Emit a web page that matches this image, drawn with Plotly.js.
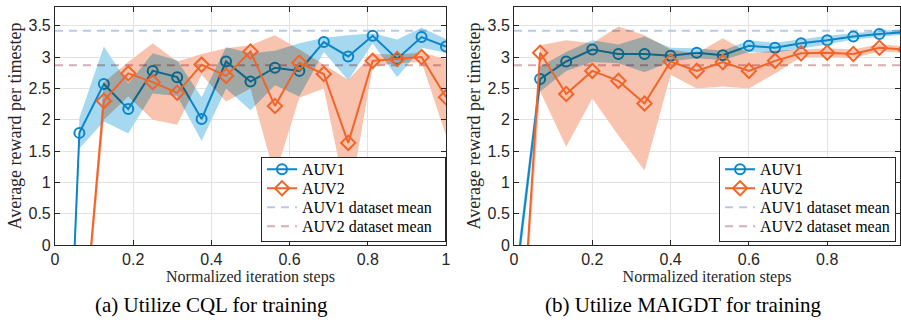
<!DOCTYPE html>
<html>
<head>
<meta charset="utf-8">
<script src="https://cdn.plot.ly/plotly-3.0.1.min.js"></script>
<style>
html,body{margin:0;padding:0;background:#fff;}
#chart{width:901px;height:327px;}
</style>
</head>
<body>
<div id="chart"></div>
<script>
// ---------- data: (a) CQL ----------
const xCQL = [0, 0.0625, 0.125, 0.1875, 0.25, 0.3125, 0.375, 0.4375, 0.5, 0.5625, 0.625, 0.6875, 0.75, 0.8125, 0.875, 0.9375, 1.0];
const cqlAUV1      = [-7.5, 1.79, 2.57, 2.17, 2.78, 2.68, 2.01, 2.93, 2.61, 2.83, 2.78, 3.24, 3.01, 3.34, 2.97, 3.32, 3.17];
const cqlAUV1Upper = [-7.25, 2.03, 3.17, 2.58, 3.06, 2.95, 2.36, 3.16, 3.06, 3.10, 3.22, 3.31, 3.35, 3.38, 3.28, 3.47, 3.29];
const cqlAUV1Lower = [-7.75, 1.54, 1.97, 1.78, 2.42, 2.38, 1.66, 2.50, 2.15, 2.55, 2.37, 3.08, 2.63, 3.22, 2.68, 3.15, 3.07];
const cqlAUV2      = [-6.6, -2.2, 2.30, 2.74, 2.60, 2.43, 2.88, 2.70, 3.09, 2.22, 2.91, 2.73, 1.63, 2.94, 2.97, 3.00, 2.36];
const cqlAUV2Upper = [-6.5, -2.1, 2.60, 2.92, 3.22, 2.93, 3.05, 3.14, 3.19, 3.35, 3.12, 2.88, 2.64, 3.05, 3.04, 3.07, 2.97];
const cqlAUV2Lower = [-6.7, -2.3, 2.00, 2.37, 2.00, 1.92, 2.72, 2.29, 2.50, 1.10, 2.35, 2.50, 0.60, 2.85, 2.90, 2.92, 1.75];

// ---------- data: (b) MAIGDT ----------
const xMAIGDT = [0, 0.0667, 0.1333, 0.2, 0.2667, 0.3333, 0.4, 0.4667, 0.5333, 0.6, 0.6667, 0.7333, 0.8, 0.8667, 0.9333, 1.0];
const mgAUV1      = [-0.8, 2.65, 2.93, 3.12, 3.05, 3.05, 3.02, 3.07, 3.03, 3.18, 3.15, 3.22, 3.27, 3.33, 3.37, 3.40];
const mgAUV1Upper = [-0.6, 2.85, 3.08, 3.27, 3.20, 3.33, 3.15, 3.14, 3.10, 3.27, 3.23, 3.29, 3.34, 3.38, 3.42, 3.44];
const mgAUV1Lower = [-1.0, 2.45, 2.78, 2.92, 2.90, 2.76, 2.93, 2.98, 2.95, 3.08, 3.07, 3.14, 3.20, 3.28, 3.32, 3.36];
const mgAUV2      = [-3.5, 3.07, 2.41, 2.78, 2.62, 2.26, 2.93, 2.78, 2.92, 2.78, 2.94, 3.06, 3.07, 3.05, 3.15, 3.12];
const mgAUV2Upper = [-3.4, 3.19, 3.27, 3.22, 3.49, 3.35, 3.12, 3.06, 3.30, 3.06, 3.10, 3.12, 3.14, 3.12, 3.21, 3.17];
const mgAUV2Lower = [-3.6, 2.45, 1.57, 2.34, 1.75, 1.19, 2.72, 2.50, 2.53, 2.50, 2.74, 3.00, 3.00, 2.98, 3.09, 3.07];

// dataset means
const meanX = [0, 1];
const datasetMeanAUV1 = 3.42;
const datasetMeanAUV2 = 2.87;

// labels
const seriesNames = ['AUV1', 'AUV2', 'AUV1 dataset mean', 'AUV2 dataset mean'];
const xTitle = 'Normalized iteration steps';
const yTitle = 'Average reward per timestep';
const captions = ['(a) Utilize CQL for training', '(b) Utilize MAIGDT for training'];

// ---------- styles ----------
const BLUE = '#0C86C6', ORANGE = '#F2652A';
const BLUE_FILL = '#A6D9F0', ORANGE_FILL = '#F8C4B0';
const MEAN1 = '#B9C9E6', MEAN2 = '#D6AEB4';
const SERIF = 'Liberation Serif';
const SANS = 'Liberation Sans';

function band(x, lo, hi, color, xa, ya) {
  return {
    x: x.concat(x.slice().reverse()),
    y: hi.concat(lo.slice().reverse()),
    fill: 'toself', fillcolor: color, mode: 'lines', line: {width: 0},
    hoverinfo: 'skip', showlegend: false, xaxis: xa, yaxis: ya
  };
}
function series(x, y, name, color, symbol, xa, ya, lg, rank) {
  return {
    x: x, y: y, name: name, mode: 'lines+markers',
    line: {color: color, width: 2},
    marker: {symbol: symbol, size: symbol.startsWith('diamond') ? 11 : 10, color: color, line: {color: color, width: 2}},
    xaxis: xa, yaxis: ya, legend: lg, legendrank: rank, cliponaxis: true
  };
}
function meanLine(v, name, color, xa, ya, lg, rank) {
  return {
    x: meanX, y: [v, v], name: name, mode: 'lines',
    line: {color: color, width: 2, dash: '8px,6px'},
    xaxis: xa, yaxis: ya, legend: lg, legendrank: rank
  };
}

const traces = [
  meanLine(datasetMeanAUV1, seriesNames[2], MEAN1, 'x', 'y', 'legend', 3),
  meanLine(datasetMeanAUV2, seriesNames[3], MEAN2, 'x', 'y', 'legend', 4),
  band(xCQL, cqlAUV1Lower, cqlAUV1Upper, BLUE_FILL, 'x', 'y'),
  series(xCQL, cqlAUV1, seriesNames[0], BLUE, 'circle-open', 'x', 'y', 'legend', 1),
  band(xCQL, cqlAUV2Lower, cqlAUV2Upper, ORANGE_FILL, 'x', 'y'),
  series(xCQL, cqlAUV2, seriesNames[1], ORANGE, 'diamond-open', 'x', 'y', 'legend', 2),

  meanLine(datasetMeanAUV1, seriesNames[2], MEAN1, 'x2', 'y2', 'legend2', 3),
  meanLine(datasetMeanAUV2, seriesNames[3], MEAN2, 'x2', 'y2', 'legend2', 4),
  band(xMAIGDT, mgAUV1Lower, mgAUV1Upper, BLUE_FILL, 'x2', 'y2'),
  series(xMAIGDT, mgAUV1, seriesNames[0], BLUE, 'circle-open', 'x2', 'y2', 'legend2', 1),
  band(xMAIGDT, mgAUV2Lower, mgAUV2Upper, ORANGE_FILL, 'x2', 'y2'),
  series(xMAIGDT, mgAUV2, seriesNames[1], ORANGE, 'diamond-open', 'x2', 'y2', 'legend2', 2)
];

function xAxis(domain, range) {
  return {
    domain: domain, range: range, dtick: 0.2, tick0: 0,
    ticks: 'inside', ticklen: 5, tickwidth: 1, tickcolor: '#262626',
    showline: true, linecolor: '#262626', linewidth: 1, mirror: 'ticks',
    showgrid: true, gridcolor: '#E2E2E2', gridwidth: 1, zeroline: false,
    tickfont: {family: SANS, size: 16, color: '#262626'},
    title: {text: xTitle, font: {family: SERIF, size: 16, color: '#262626'}, standoff: 2},
    automargin: false
  };
}
function yAxis(domain, anchor) {
  return {
    domain: domain, range: [0, 3.8], dtick: 0.5, tick0: 0, anchor: anchor,
    ticks: 'inside', ticklen: 5, tickwidth: 1, tickcolor: '#262626',
    showline: true, linecolor: '#262626', linewidth: 1, mirror: 'ticks',
    showgrid: true, gridcolor: '#E2E2E2', gridwidth: 1, zeroline: false,
    tickfont: {family: SANS, size: 16, color: '#262626'},
    title: {text: yTitle, font: {family: SERIF, size: 18, color: '#262626'}, standoff: 2},
    automargin: false
  };
}
function legendCfg(x) {
  return {
    x: x, xanchor: 'right', y: 0.2602, yanchor: 'bottom',
    bgcolor: '#FFFFFF', bordercolor: '#262626', borderwidth: 1,
    font: {family: SERIF, size: 16, color: '#000000'},
    traceorder: 'normal', tracegroupgap: 0
  };
}

const yDom = [0.2508, 0.9786];
const layout = {
  width: 901, height: 327,
  margin: {l: 0, r: 0, t: 0, b: 0},
  paper_bgcolor: '#FFFFFF', plot_bgcolor: '#FFFFFF',
  showlegend: true,
  xaxis: xAxis([0.0610, 0.4950], [0, 1]),
  yaxis: yAxis(yDom, 'x'),
  xaxis2: Object.assign(xAxis([0.5705, 0.9989], [0, 0.986]), {anchor: 'y2'}),
  yaxis2: yAxis(yDom, 'x2'),
  legend: legendCfg(0.4950),
  legend2: legendCfg(0.9945),
  annotations: [
    {text: captions[0], xref: 'paper', yref: 'paper', x: 211/901, y: (327-305)/327, xanchor: 'center', yanchor: 'middle',
     showarrow: false, font: {family: SERIF, size: 21, color: '#000'}},
    {text: captions[1], xref: 'paper', yref: 'paper', x: 683/901, y: (327-305)/327, xanchor: 'center', yanchor: 'middle',
     showarrow: false, font: {family: SERIF, size: 21, color: '#000'}}
  ]
};
layout.xaxis.anchor = 'y';

// compact the legend box: rows `step` px apart, smaller top/bottom padding, optional extra width on the left
function tightenLegend(sel, step, trimTop, trimBottom, widen) {
  const g = document.querySelector(sel);
  if (!g) return;
  const parse = t => { const m = /translate\(\s*([-\d.e]+)[ ,]+([-\d.e]+)/.exec(t || ''); return m ? [parseFloat(m[1]), parseFloat(m[2])] : null; };
  const items = Array.from(g.querySelectorAll('g.traces'));
  const order = items.map(it => ({it: it, p: parse(it.getAttribute('transform'))})).filter(o => o.p).sort((a, b) => a.p[1] - b.p[1]);
  if (order.length < 2) return;
  const oldStep = (order[order.length - 1].p[1] - order[0].p[1]) / (order.length - 1);
  const shrink = (oldStep - step) * (order.length - 1) + trimTop + trimBottom;
  order.forEach((o, i) => o.it.setAttribute('transform', 'translate(' + o.p[0] + ',' + (order[0].p[1] - trimTop + i * step) + ')'));
  g.querySelectorAll('rect.bg').forEach(r => {
    r.setAttribute('height', parseFloat(r.getAttribute('height')) - shrink);
    r.setAttribute('width', parseFloat(r.getAttribute('width')) + widen);
  });
  const gt = parse(g.getAttribute('transform'));
  if (gt) g.setAttribute('transform', 'translate(' + (gt[0] - widen) + ',' + (gt[1] + shrink) + ')');
}

Plotly.newPlot('chart', traces, layout, {displayModeBar: false, staticPlot: true}).then(function () {
  document.querySelectorAll('#chart path.js-fill').forEach(function (p) {
    p.style.mixBlendMode = 'multiply';
  });
  tightenLegend('#chart g.legend', 19, 6, 3, 8);
  tightenLegend('#chart g.legend2', 19, 6, 3, 0);
});
</script>
</body>
</html>
